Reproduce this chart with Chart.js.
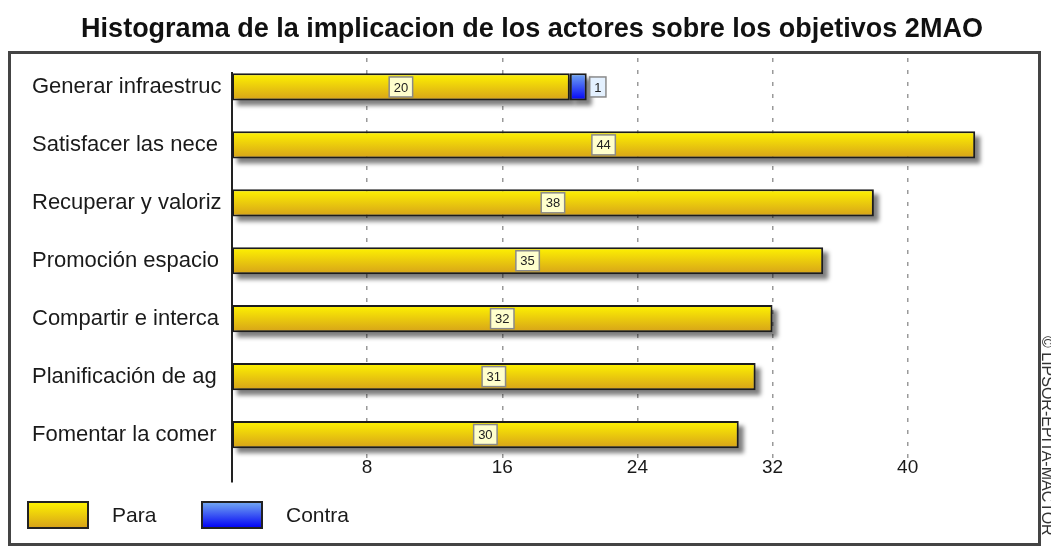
<!DOCTYPE html>
<html>
<head>
<meta charset="utf-8">
<title>Histograma MACTOR</title>
<script src="https://cdn.jsdelivr.net/npm/chart.js@4.4.1/dist/chart.umd.min.js"></script>
<style>
  html, body { margin: 0; padding: 0; background: #fff; }
</style>
</head>
<body>
<canvas id="histo" width="1051" height="548"></canvas>
<script>
// objetivos y valores de implicacion
const objetivos = ['Generar infraestruc', 'Satisfacer las nece', 'Recuperar y valoriz', 'Promoción espacio', 'Compartir e interca', 'Planificación de ag', 'Fomentar la comer'];
const para = [20, 44, 38, 35, 32, 31, 30];
const contra = [1, 0, 0, 0, 0, 0, 0];
const xTicks = [8, 16, 24, 32, 40];
const xMax = 46;
const titulo = 'Histograma de la implicacion de los actores sobre los objetivos 2MAO';
const copyright = '© LIPSOR-EPITA-MACTOR';

const FONT = '"Liberation Sans", Arial, sans-serif';
const BAR_PCT = 0.47;
const colores = {
  para: ['#FFF400', '#D6A11A', '#FFFFCC'],
  contra: ['#74AAF2', '#0000F5', '#E4F1FF']
};

// degradado vertical para cada barra
function degradado(key) {
  return function (ctx) {
    const chart = ctx.chart;
    const y = chart.scales.y;
    if (!y || ctx.type !== 'data') return colores[key][0];
    const c = y.getPixelForValue(ctx.dataIndex);
    const half = y.height / objetivos.length * BAR_PCT / 2;
    if (!isFinite(c) || !isFinite(half) || half <= 0) return colores[key][0];
    const g = chart.ctx.createLinearGradient(0, c - half, 0, c + half);
    g.addColorStop(0, colores[key][0]);
    g.addColorStop(1, colores[key][1]);
    return g;
  };
}

const marco = {
  id: 'marco',
  beforeDraw(chart) {
    const c = chart.ctx;
    c.save();
    c.fillStyle = '#fff';
    c.fillRect(0, 0, chart.width, chart.height);
    c.strokeStyle = '#444';
    c.lineWidth = 3;
    c.strokeRect(9.5, 52.5, 1030, 492);
    // titulo
    c.fillStyle = '#111';
    c.font = 'bold 27px ' + FONT;
    c.textAlign = 'center';
    c.textBaseline = 'middle';
    c.fillText(titulo, 532, 30);
    c.restore();
  },
  beforeDatasetsDraw(chart) {
    const a = chart.chartArea, c = chart.ctx;
    c.save();
    // eje vertical
    c.strokeStyle = '#222';
    c.lineWidth = 2;
    c.beginPath();
    c.moveTo(a.left, a.top + 14);
    c.lineTo(a.left, a.bottom + 19);
    c.stroke();
    // sombra de las barras
    c.filter = 'blur(2px)';
    c.fillStyle = 'rgba(0,0,0,0.5)';
    chart.data.datasets.forEach((ds, di) => {
      chart.getDatasetMeta(di).data.forEach((bar, i) => {
        if (!ds.data[i]) return;
        const p = bar.getProps(['x', 'y', 'base', 'height'], true);
        c.fillRect(Math.min(p.x, p.base) + 5, p.y - p.height / 2 + 5, Math.abs(p.x - p.base), p.height);
      });
    });
    c.restore();
  },
  afterDatasetsDraw(chart) {
    const c = chart.ctx;
    c.save();
    c.font = '13px ' + FONT;
    c.textAlign = 'center';
    c.textBaseline = 'middle';
    chart.data.datasets.forEach((ds, di) => {
      const meta = chart.getDatasetMeta(di);
      meta.data.forEach((bar, i) => {
        const v = ds.data[i];
        if (!v) return;
        const txt = String(v);
        const w = c.measureText(txt).width + 9, h = 20;
        let cx = (bar.x + bar.base) / 2;
        if (Math.abs(bar.x - bar.base) < w + 6) cx = bar.x + 3 + w / 2;
        c.fillStyle = colores[ds.key][2];
        c.fillRect(cx - w / 2, bar.y - h / 2, w, h);
        c.strokeStyle = '#8a8a8a';
        c.lineWidth = 1.5;
        c.strokeRect(cx - w / 2, bar.y - h / 2, w, h);
        c.fillStyle = '#222';
        c.fillText(txt, cx, bar.y + 1);
      });
    });
    c.restore();
  },
  afterDraw(chart) {
    const c = chart.ctx;
    c.save();
    // etiquetas del eje x
    const sx = chart.scales.x;
    c.font = '19px ' + FONT;
    c.fillStyle = '#1a1a1a';
    c.textAlign = 'center';
    c.textBaseline = 'middle';
    xTicks.forEach(v => c.fillText(String(v), sx.getPixelForValue(v), chart.chartArea.bottom + 4));
    // leyenda
    const top = chart.height - 46;
    let x = 28;
    c.textAlign = 'left';
    chart.data.datasets.forEach(ds => {
      const g = c.createLinearGradient(0, top, 0, top + 26);
      g.addColorStop(0, colores[ds.key][0]);
      g.addColorStop(1, colores[ds.key][1]);
      c.fillStyle = g;
      c.fillRect(x, top, 60, 26);
      c.strokeStyle = '#222';
      c.lineWidth = 2;
      c.strokeRect(x, top, 60, 26);
      c.fillStyle = '#1a1a1a';
      c.font = '21px ' + FONT;
      c.fillText(ds.label, x + 84, top + 14);
      x += 174;
    });
    // copyright vertical
    c.translate(1042, 336);
    c.rotate(Math.PI / 2);
    c.font = '16px ' + FONT;
    c.fillStyle = '#333';
    c.textBaseline = 'alphabetic';
    c.fillText(copyright, 0, 0);
    c.restore();
  }
};

new Chart(document.getElementById('histo'), {
  type: 'bar',
  data: {
    labels: objetivos,
    datasets: [
      { key: 'para', label: 'Para', data: para, backgroundColor: degradado('para') },
      { key: 'contra', label: 'Contra', data: contra, backgroundColor: degradado('contra') }
    ]
  },
  options: {
    indexAxis: 'y',
    responsive: false,
    animation: false,
    devicePixelRatio: 1,
    layout: { padding: { left: 32, right: 42, top: 58, bottom: 54.5 } },
    datasets: {
      bar: {
        categoryPercentage: 1,
        barPercentage: BAR_PCT,
        borderColor: '#1c1c1c',
        borderWidth: 2,
        borderSkipped: false
      }
    },
    scales: {
      x: {
        type: 'linear',
        stacked: true,
        min: 0,
        max: xMax,
        afterBuildTicks: s => { s.ticks = xTicks.map(v => ({ value: v })); },
        afterFit: s => { s.height = 30; },
        border: { display: false, dash: [4, 8] },
        grid: { color: '#9a9a9a', lineWidth: 1.5, drawTicks: false },
        ticks: { display: false }
      },
      y: {
        stacked: true,
        afterFit: s => { s.width = 200; },
        border: { display: false },
        grid: { display: false },
        ticks: { color: '#1a1a1a', font: { family: FONT, size: 22 }, crossAlign: 'far' }
      }
    },
    plugins: {
      legend: { display: false },
      tooltip: { enabled: false },
      title: { display: false }
    }
  },
  plugins: [marco]
});
</script>
</body>
</html>
